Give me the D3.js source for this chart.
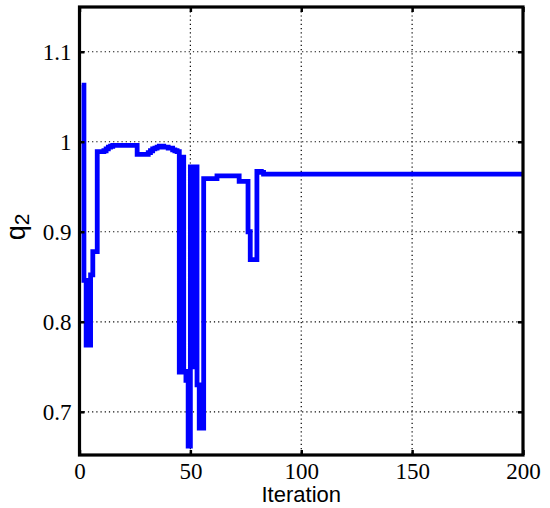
<!DOCTYPE html>
<meta charset="utf-8">
<script src="https://d3js.org/d3.v7.min.js"></script>
<style>
  body { margin: 0; background: #fff; }
  .tick-label { font-family: "Liberation Serif", "Times New Roman", serif; font-size: 23px; fill: #000; }
  .axis-title { font-family: "Liberation Sans", Arial, sans-serif; fill: #000; }
</style>
<body>
<div id="graph"></div>
<script>
  // iteration where q2 takes a new value, and that value (held until the next entry)
  var iterPts = [1, 2, 3, 5, 6, 8, 11, 12, 13, 14, 15, 26, 31, 32, 33, 34, 35, 36, 38, 40,
    42, 43, 44, 45, 46, 47, 48, 49, 50, 51, 52, 53, 54, 56, 62, 72, 76, 77, 80, 82,
    83, 200];
  var q2Vals = [1.063, 0.846, 0.774, 0.852, 0.878, 0.989, 0.990, 0.992, 0.994, 0.995, 0.996, 0.986, 0.988, 0.990, 0.992, 0.993, 0.994, 0.995, 0.994, 0.993,
    0.991, 0.990, 0.989, 0.744, 0.983, 0.745, 0.735, 0.662, 0.972, 0.750, 0.972, 0.730, 0.682, 0.959, 0.962, 0.956, 0.900, 0.869, 0.967, 0.966,
    0.964, 0.964];

  var xTicks = [0, 50, 100, 150, 200];
  var yTicks = [0.7, 0.8, 0.9, 1, 1.1];
  var xGrid = [50, 100, 150];

  var W = 550, H = 508;
  var pLeft = 79.5, pRight = 523, pTop = 7, pBottom = 455;

  var x = d3.scaleLinear().domain([0, 200]).range([pLeft, pRight]);
  var y = d3.scaleLinear().domain([0.652, 1.1497]).range([pBottom, pTop]);

  var svg = d3.select("#graph").append("svg")
    .attr("width", W)
    .attr("height", H);

  // dotted grid
  svg.append("g").selectAll("line")
    .data(yTicks)
    .enter().append("line")
    .attr("x1", pLeft).attr("x2", pRight)
    .attr("y1", function (d) { return y(d); })
    .attr("y2", function (d) { return y(d); })
    .attr("stroke", "#000")
    .attr("stroke-width", 1.2)
    .attr("stroke-dasharray", "1.2,3");

  svg.append("g").selectAll("line")
    .data(xGrid)
    .enter().append("line")
    .attr("y1", pTop).attr("y2", pBottom)
    .attr("x1", function (d) { return x(d); })
    .attr("x2", function (d) { return x(d); })
    .attr("stroke", "#000")
    .attr("stroke-width", 1.2)
    .attr("stroke-dasharray", "1.2,3");

  // the q2 trace, drawn as stairs
  var pts = iterPts.map(function (d, i) { return [d, q2Vals[i]]; });
  svg.append("path")
    .datum(pts)
    .attr("fill", "none")
    .attr("stroke", "#0000ff")
    .attr("stroke-width", 4.8)
    .attr("d", d3.line()
      .curve(d3.curveStepAfter)
      .x(function (d) { return x(d[0]); })
      .y(function (d) { return y(d[1]); }));

  // axes: labels + inward ticks
  var xAxis = d3.axisBottom(x).tickValues(xTicks).tickSize(-5).tickPadding(7)
    .tickFormat(d3.format("d"));
  var gx = svg.append("g")
    .attr("transform", "translate(0," + pBottom + ")")
    .call(xAxis);

  var yAxis = d3.axisLeft(y).tickValues(yTicks).tickSize(-5).tickPadding(8)
    .tickFormat(function (d) { return d === 1 ? "1" : d3.format(".1f")(d); });
  var gy = svg.append("g")
    .attr("transform", "translate(" + pLeft + ",0)")
    .call(yAxis);

  // top and right ticks
  svg.append("g").attr("transform", "translate(0," + pTop + ")")
    .call(d3.axisTop(x).tickValues(xTicks).tickSize(-5).tickFormat(""));
  svg.append("g").attr("transform", "translate(" + pRight + ",0)")
    .call(d3.axisRight(y).tickValues(yTicks).tickSize(-5).tickFormat(""));

  svg.selectAll(".domain").remove();
  svg.selectAll(".tick line").attr("stroke", "#000").attr("stroke-width", 2.5);
  svg.selectAll(".tick text")
    .attr("class", "tick-label")
    .attr("font-family", null)
    .attr("font-size", null);
  gx.selectAll(".tick text").attr("dy", "0.75em");

  // frame
  svg.append("rect")
    .attr("x", pLeft).attr("y", pTop)
    .attr("width", pRight - pLeft).attr("height", pBottom - pTop)
    .attr("fill", "none")
    .attr("stroke", "#000")
    .attr("stroke-width", 3.2);

  // titles
  svg.append("text")
    .attr("class", "axis-title")
    .attr("x", x(100))
    .attr("y", 502)
    .attr("text-anchor", "middle")
    .style("font-size", "22px")
    .text("Iteration");

  var yl = svg.append("text")
    .attr("class", "axis-title")
    .attr("transform", "translate(25,227) rotate(-90)")
    .attr("text-anchor", "middle")
    .style("font-size", "27px");
  yl.append("tspan").text("q");
  yl.append("tspan").attr("dy", "0.2em").style("font-size", "21px").text("2");
</script>
</body>
